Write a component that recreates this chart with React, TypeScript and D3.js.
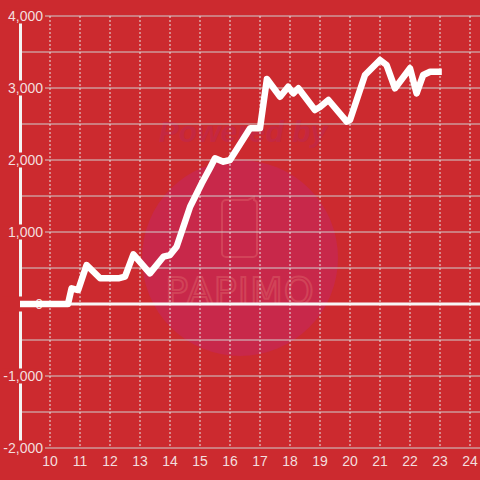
import React from "react";
import * as d3 from "d3";

const hours = [9, 10.6, 10.72, 10.94, 11.22, 11.67, 12.28, 12.5, 12.78, 13.33, 13.78, 14.0, 14.22, 14.67, 15.06, 15.33, 15.5, 15.78, 16.0, 16.67, 17.0, 17.23, 17.67, 17.94, 18.11, 18.28, 18.83, 19.0, 19.28, 19.89, 20.0, 20.5, 21.0, 21.22, 21.5, 22.0, 22.22, 22.44, 22.67, 23.06];
const values = [0, 0, 218, 194, 542, 357, 357, 379, 690, 426, 657, 680, 796, 1351, 1676, 1885, 2024, 1976, 2000, 2440, 2440, 3125, 2879, 3018, 2926, 2996, 2694, 2736, 2833, 2532, 2556, 3180, 3389, 3319, 2996, 3274, 2926, 3181, 3226, 3226];
const yTicks = [-2000, -1000, 0, 1000, 2000, 3000, 4000];
const yGrid = [-2000, -1500, -1000, -500, 0, 500, 1000, 1500, 2000, 2500, 3000, 3500, 4000];
const xTicks = [10, 11, 12, 13, 14, 15, 16, 17, 18, 19, 20, 21, 22, 23, 24];

const BG = "#cc2a2f";
const W = 480, H = 480;

export default function App() {
  const x = d3.scaleLinear().domain([9, 24]).range([20, 470]);
  const y = d3.scaleLinear().domain([-2000, 4000]).range([448, 16]);
  const data = hours.map((h, i) => [h, values[i]] as [number, number]);
  const line = d3.line<[number, number]>().x(d => x(d[0])).y(d => y(d[1]));
  const fmt = (v: number) => d3.format(",")(v).replace("\u2212", "-");
  const font = "'Liberation Sans', Arial, sans-serif";
  return (
    <svg width={W} height={H} style={{ position: "absolute", left: 0, top: 0, display: "block" }}>
      <rect x={0} y={0} width={W} height={H} fill={BG} />
      {/* watermark */}
      <circle cx={240} cy={258} r={98} fill="#c8284a" />
      <text x={243} y={142} textAnchor="middle" fontFamily={font} fontWeight="bold" fontStyle="italic" fontSize={30} fill="#c42844" opacity={0.9}>Powered by</text>
      <path d="M226,200 h22 l6,-3 v3 a4,4 0 0 1 3,4 v49 a4,4 0 0 1 -4,4 h-27 a4,4 0 0 1 -4,-4 v-49 a4,4 0 0 1 4,-4 z" fill="none" stroke="#d44a5c" strokeWidth={2} opacity={0.8} />
      <text x={240} y={304} textAnchor="middle" fontFamily="'DejaVu Sans', sans-serif" fontSize={38} fill="none" stroke="#d44a5c" strokeWidth={2} letterSpacing={1} opacity={0.8}>PAPIMO</text>
      {/* horizontal grid */}
      {yGrid.map(v => (
        <line key={"g" + v} x1={20} x2={W} y1={y(v)} y2={y(v)} stroke="#cfcfcf" strokeWidth={1} />
      ))}
      {/* vertical dashed grid */}
      {xTicks.map(h => (
        <line key={"v" + h} x1={x(h)} x2={x(h)} y1={16} y2={448} stroke="#e6e6e6" strokeWidth={1} strokeDasharray="2,2" />
      ))}
      {/* y axis line */}
      <line x1={20.5} x2={20.5} y1={16} y2={448} stroke="#f4f4f4" strokeWidth={3} />
      {/* zero line */}
      <line x1={20} x2={W} y1={y(0)} y2={y(0)} stroke="#f7f7f7" strokeWidth={3} />
      {/* y labels with background */}
      {yTicks.map(v => (
        <g key={"yl" + v}>
          <rect x={2} y={y(v) - 7.5} width={43} height={15} fill={BG} />
          <text x={43} y={y(v)} dy="0.35em" textAnchor="end" fontFamily={font} fontSize={14} fill="#f3dede">{fmt(v)}</text>
        </g>
      ))}
      {/* x labels */}
      {xTicks.map(h => (
        <text key={"xl" + h} x={x(h)} y={466} textAnchor="middle" fontFamily={font} fontSize={14} fill="#f3dede">{h}</text>
      ))}
      {/* data line */}
      <path d={line(data) || ""} fill="none" stroke="#ffffff" strokeWidth={6.5} strokeLinejoin="round" strokeLinecap="butt" />
    </svg>
  );
}
